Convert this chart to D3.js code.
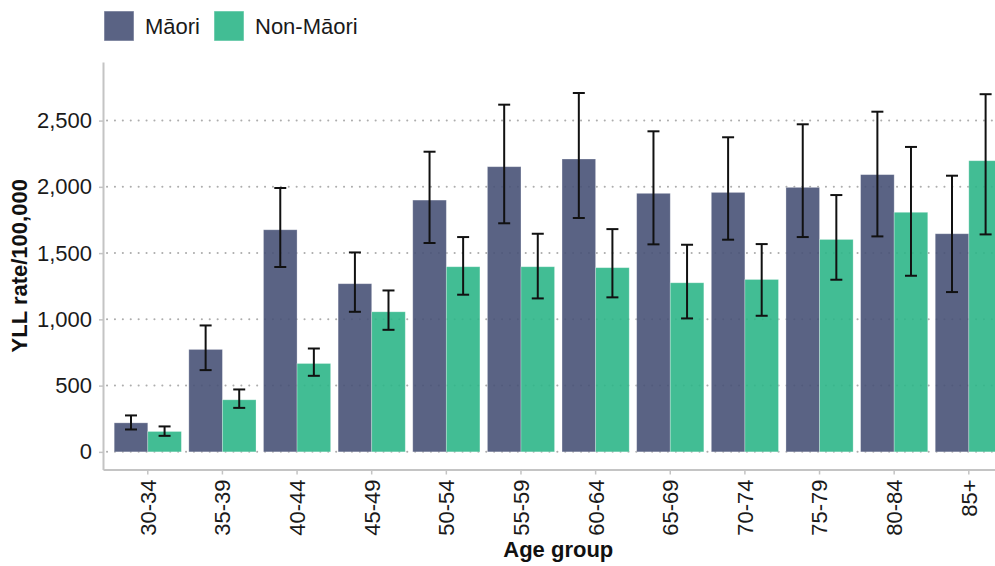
<!DOCTYPE html>
<html>
<head>
<meta charset="utf-8">
<script src="https://cdn.jsdelivr.net/npm/d3@7"></script>
<style>
  html, body { margin: 0; padding: 0; background: #fff; }
  svg { display: block; font-family: "Liberation Sans", Arial, Helvetica, sans-serif; }
</style>
</head>
<body>
<svg id="chart" width="995" height="566"></svg>
<script>
// Years of life lost (YLL) rate per 100,000 by age group, with 95% intervals
const ageGroups = ["30-34", "35-39", "40-44", "45-49", "50-54", "55-59",
                   "60-64", "65-69", "70-74", "75-79", "80-84", "85+"];
const seriesNames = ["Māori", "Non-Māori"];
const seriesColors = ["#485277", "#2eb688"];

const maoriRate  = [219, 773, 1676, 1269, 1900, 2152, 2210, 1951, 1958, 1996, 2092, 1646];
const maoriLower = [169, 617, 1395, 1057, 1576, 1725, 1765, 1566, 1601, 1621, 1626, 1206];
const maoriUpper = [275, 954, 1991, 1505, 2265, 2620, 2708, 2419, 2374, 2472, 2567, 2084];

const nonMaoriRate  = [154, 393, 667, 1057, 1397, 1397, 1390, 1276, 1301, 1603, 1808, 2197];
const nonMaoriLower = [121, 332, 574, 921, 1186, 1158, 1166, 1007, 1027, 1299, 1329, 1641];
const nonMaoriUpper = [192, 471, 780, 1218, 1621, 1646, 1681, 1563, 1568, 1938, 2301, 2699];

const yTicks = [0, 500, 1000, 1500, 2000, 2500];
const yDomain = [-133, 2942];

// Long-format rows built from the arrays above
const rows = [];
ageGroups.forEach((g, i) => {
  rows.push({ group: g, series: seriesNames[0], value: maoriRate[i], lo: maoriLower[i], hi: maoriUpper[i] });
  rows.push({ group: g, series: seriesNames[1], value: nonMaoriRate[i], lo: nonMaoriLower[i], hi: nonMaoriUpper[i] });
});

const svg = d3.select("#chart");
const panel = { left: 103, right: 1013.6, top: 62, bottom: 469.5 };

const x = d3.scaleBand()
  .domain(ageGroups)
  .range([panel.left, panel.right])
  .paddingInner(0.1)
  .paddingOuter(0.15);

const xSub = d3.scaleBand()
  .domain(seriesNames)
  .range([0, x.bandwidth()]);

const y = d3.scaleLinear()
  .domain(yDomain)
  .range([panel.bottom, panel.top]);

const color = d3.scaleOrdinal().domain(seriesNames).range(seriesColors);

// Dotted horizontal gridlines
svg.append("g")
  .selectAll("line")
  .data(yTicks)
  .join("line")
  .attr("x1", panel.left + 4)
  .attr("x2", panel.right)
  .attr("y1", d => y(d))
  .attr("y2", d => y(d))
  .attr("stroke", "#adadad")
  .attr("stroke-width", 2)
  .attr("stroke-linecap", "round")
  .attr("stroke-dasharray", "0.1,7.8");

// Bars (slightly translucent so the gridlines show through)
svg.append("g")
  .selectAll("rect")
  .data(rows)
  .join("rect")
  .attr("x", d => x(d.group) + xSub(d.series))
  .attr("y", d => y(d.value))
  .attr("width", xSub.bandwidth())
  .attr("height", d => y(0) - y(d.value))
  .attr("fill", d => color(d.series))
  .attr("fill-opacity", 0.9)
  .attr("stroke", "rgba(255,255,255,0.35)")
  .attr("stroke-width", 0.8);

// Error bars
const capHalf = 6;
const err = svg.append("g")
  .selectAll("g")
  .data(rows)
  .join("g")
  .attr("stroke", "#111")
  .attr("stroke-width", 2);
const cx = d => x(d.group) + xSub(d.series) + xSub.bandwidth() / 2;
err.append("line")
  .attr("x1", cx).attr("x2", cx)
  .attr("y1", d => y(d.lo)).attr("y2", d => y(d.hi));
err.append("line")
  .attr("x1", d => cx(d) - capHalf).attr("x2", d => cx(d) + capHalf)
  .attr("y1", d => y(d.hi)).attr("y2", d => y(d.hi));
err.append("line")
  .attr("x1", d => cx(d) - capHalf).attr("x2", d => cx(d) + capHalf)
  .attr("y1", d => y(d.lo)).attr("y2", d => y(d.lo));

// Y axis
const yAxis = svg.append("g")
  .attr("transform", `translate(${panel.left},0)`)
  .call(d3.axisLeft(y)
    .tickValues(yTicks)
    .tickFormat(d3.format(","))
    .tickSize(4)
    .tickPadding(7)
    .tickSizeOuter(0));
yAxis.select(".domain").attr("stroke", "#c4c4c4").attr("stroke-width", 2);
yAxis.selectAll(".tick line").attr("stroke", "#c4c4c4").attr("stroke-width", 1.5);
yAxis.selectAll(".tick text")
  .attr("font-size", 22)
  .attr("font-family", "Liberation Sans, Arial, sans-serif")
  .attr("fill", "#1a1a1a");

// X axis
const xAxis = svg.append("g")
  .attr("transform", `translate(0,${panel.bottom})`)
  .call(d3.axisBottom(x).tickSize(5).tickSizeOuter(0));
xAxis.select(".domain").attr("stroke", "#c4c4c4").attr("stroke-width", 2);
xAxis.selectAll(".tick line").attr("stroke", "#c4c4c4").attr("stroke-width", 1.5);
xAxis.selectAll(".tick text")
  .attr("font-size", 22)
  .attr("font-family", "Liberation Sans, Arial, sans-serif")
  .attr("fill", "#1a1a1a")
  .attr("transform", "rotate(-90)")
  .attr("text-anchor", "end")
  .attr("x", -10)
  .attr("y", 0)
  .attr("dy", "0.36em");

// Axis titles
svg.append("text")
  .attr("x", (panel.left + panel.right) / 2)
  .attr("y", 557)
  .attr("text-anchor", "middle")
  .attr("font-size", 22)
  .attr("font-weight", "bold")
  .attr("fill", "#111")
  .text("Age group");

svg.append("text")
  .attr("transform", `translate(27,${(panel.top + panel.bottom) / 2}) rotate(-90)`)
  .attr("text-anchor", "middle")
  .attr("font-size", 22)
  .attr("font-weight", "bold")
  .attr("fill", "#111")
  .text("YLL rate/100,000");

// Legend
const legendX = [104, 214];
const legend = svg.append("g")
  .selectAll("g")
  .data(seriesNames)
  .join("g")
  .attr("transform", (d, i) => `translate(${legendX[i]},11)`);
legend.append("rect")
  .attr("width", 30)
  .attr("height", 30)
  .attr("fill", d => color(d))
  .attr("fill-opacity", 0.9)
  .attr("stroke", "rgba(255,255,255,0.5)")
  .attr("stroke-width", 1);
legend.append("text")
  .attr("x", 41)
  .attr("y", 23)
  .attr("font-size", 22)
  .attr("fill", "#1a1a1a")
  .text(d => d);
</script>
</body>
</html>
